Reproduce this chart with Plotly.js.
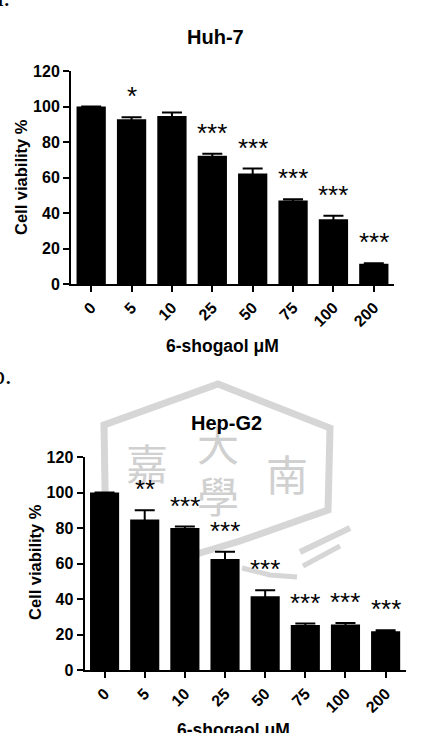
<!DOCTYPE html>
<html>
<head>
<meta charset="utf-8">
<script src="https://cdn.plot.ly/plotly-3.0.1.min.js"></script>
<style>html,body{margin:0;padding:0;background:#fff;}#chart{width:422px;height:733px;}</style>
</head>
<body>
<div id="chart"></div>
<script>
// ---- data ----
const categories = ['0', '5', '10', '25', '50', '75', '100', '200'];
const huhMean = [100, 92.8, 94.6, 72.2, 62.3, 47.1, 36.5, 11.4];
const huhErr  = [0,   1.2,  2.0,  1.2,  2.7,  0.7,  2.0,  0.3];
const huhSig  = ['', '*', '', '***', '***', '***', '***', '***'];
const hepMean = [100, 84.8, 80.0, 62.6, 41.6, 25.3, 25.6, 21.8];
const hepErr  = [0,   5.2,  0.8,  4.0,  3.3,  0.9,  0.9,  0.6];
const hepSig  = ['', '**', '***', '***', '***', '***', '***', '***'];
const yTicks = [0, 20, 40, 60, 80, 100, 120];
const xTitle = '6-shogaol μM';
const yTitle = 'Cell viability %';

const W = 422, H = 733;
const SANS = 'Liberation Sans, Arial, sans-serif';
const px = (x, y) => [x / W, 1 - y / H];
function pathOf(pts) {
  return pts.map((p, i) => { const q = px(p[0], p[1]); return (i ? 'L' : 'M') + q[0].toFixed(4) + ',' + q[1].toFixed(4); }).join(' ');
}

function barTrace(vals, errs, xa, ya) {
  return {
    type: 'bar', x: categories, y: vals, xaxis: xa, yaxis: ya,
    marker: {color: '#000', line: {width: 0}},
    error_y: {type: 'data', array: errs, visible: true, color: '#000', thickness: 2, width: 10},
    hoverinfo: 'skip'
  };
}

const data = [barTrace(huhMean, huhErr, 'x', 'y'), barTrace(hepMean, hepErr, 'x2', 'y2')];

function xAxis(domain, anchor) {
  return {
    domain: domain, anchor: anchor, type: 'category', range: [-0.5, 7.5],
    showline: true, linecolor: '#000', linewidth: 2, mirror: false,
    ticks: 'outside', ticklen: 6, tickwidth: 2, tickcolor: '#000',
    tickangle: -45, tickfont: {family: SANS, size: 16, color: '#000', weight: 'bold'},
    showgrid: false, zeroline: false, fixedrange: true
  };
}
function yAxis(domain, anchor) {
  return {
    domain: domain, anchor: anchor, range: [0, 120], tickvals: yTicks, ticktext: yTicks.map(String),
    showline: true, linecolor: '#000', linewidth: 2,
    ticks: 'outside', ticklen: 6, tickwidth: 2, tickcolor: '#000',
    tickfont: {family: SANS, size: 16, color: '#000', weight: 'bold'},
    showgrid: false, zeroline: false, fixedrange: true
  };
}

const annotations = [];
const wmChars = [['嘉', 147, 462], ['大', 218, 442], ['南', 287, 472], ['學', 218, 494]];
wmChars.forEach(c => {
  const q = px(c[1], c[2]);
  annotations.push({xref: 'paper', yref: 'paper', x: q[0], y: q[1], xanchor: 'center', yanchor: 'middle',
    text: c[0], showarrow: false, font: {family: 'Noto Sans CJK TC', size: 42, color: '#d0d0d0'}});
});

function sigAnn(sig, means, errs, xr, yr) {
  sig.forEach((s, i) => {
    if (!s) return;
    annotations.push({xref: xr, yref: yr, x: i, y: means[i] + errs[i], yanchor: 'bottom', yshift: 4,
      text: s, showarrow: false, font: {family: SANS, size: 26, color: '#000'}});
  });
}
sigAnn(huhSig, huhMean, huhErr, 'x', 'y');
sigAnn(hepSig, hepMean, hepErr, 'x2', 'y2');

function paperText(text, x, y, font, xa, ya, angle) {
  const q = px(x, y);
  annotations.push({xref: 'paper', yref: 'paper', x: q[0], y: q[1], xanchor: xa || 'center', yanchor: ya || 'middle',
    text: text, showarrow: false, font: font, textangle: angle || 0});
}
const titleFont = {family: SANS, size: 20, color: '#000', weight: 'bold'};
const xtFont = {family: SANS, size: 17.5, color: '#000', weight: 'bold'};
const ytFont = {family: SANS, size: 16.5, color: '#000', weight: 'bold'};
paperText('Huh-7', 215, 37, titleFont);
paperText('Hep-G2', 227, 423, titleFont);
paperText(xTitle, 223, 346, xtFont);
paperText(xTitle, 234, 730, xtFont);
paperText(yTitle, 21, 177, ytFont, 'center', 'middle', -90);
paperText(yTitle, 35, 562, ytFont, 'center', 'middle', -90);
paperText('a.', 12, 14, {family: 'Liberation Serif, Times New Roman, serif', size: 26, color: '#000'}, 'right', 'bottom');
paperText('b.', 14, 392, {family: 'Liberation Serif, Times New Roman, serif', size: 26, color: '#000'}, 'right', 'bottom');

const wmColor = '#d6d6d6';
const shapes = [
  {type: 'path', xref: 'paper', yref: 'paper', layer: 'below',
   path: pathOf([[106, 545], [104, 425], [218, 384], [330, 428], [328, 510], [240, 541], [190, 556]]),
   line: {color: wmColor, width: 7}},
  {type: 'path', xref: 'paper', yref: 'paper', layer: 'below',
   path: pathOf([[300, 552], [350, 528]]), line: {color: wmColor, width: 6}},
  {type: 'path', xref: 'paper', yref: 'paper', layer: 'below',
   path: pathOf([[303, 566], [340, 546]]), line: {color: wmColor, width: 5}},
  {type: 'path', xref: 'paper', yref: 'paper', layer: 'below',
   path: pathOf([[242, 568], [270, 575], [297, 577]]), line: {color: wmColor, width: 5}}
];

const layout = {
  width: W, height: H, margin: {l: 0, r: 0, t: 0, b: 0},
  paper_bgcolor: '#fff', plot_bgcolor: 'rgba(0,0,0,0)', showlegend: false, bargap: 0.275,
  xaxis: xAxis([71 / W, 394 / W], 'y'),
  yaxis: yAxis([449 / H, 662 / H], 'x'),
  xaxis2: xAxis([84.5 / W, 405.7 / W], 'y2'),
  yaxis2: yAxis([63 / H, 276 / H], 'x2'),
  annotations: annotations, shapes: shapes
};

Plotly.newPlot('chart', data, layout, {staticPlot: true, displayModeBar: false});
</script>
</body>
</html>
